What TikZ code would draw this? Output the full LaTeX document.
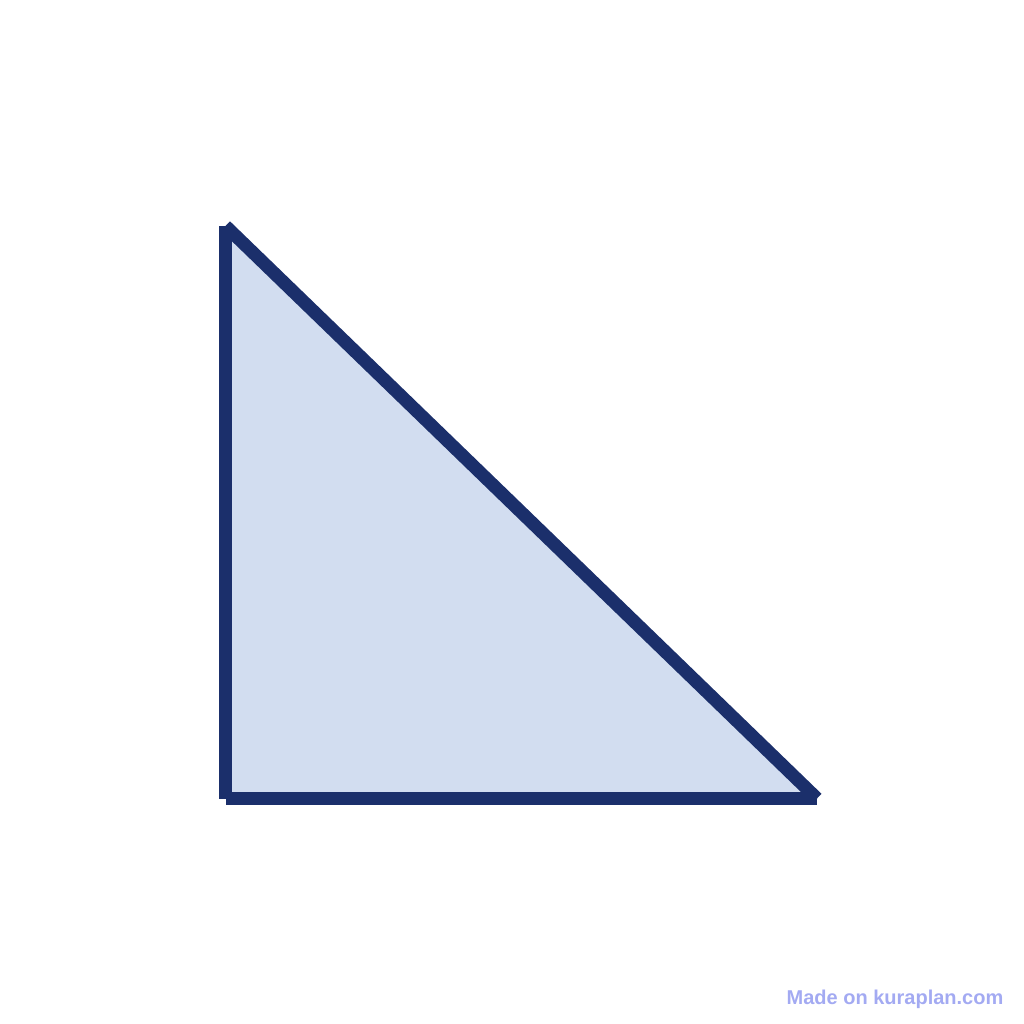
\documentclass[tikz,border=0pt]{standalone}
\usepackage{fontspec}
\setmainfont{Liberation Sans}
\definecolor{navy}{HTML}{1B2F6B}
\definecolor{paleblue}{HTML}{D2DDF0}
\definecolor{markblue}{HTML}{A3AAF2}
\begin{document}
\begin{tikzpicture}[x=1pt,y=-1pt]
                \useasboundingbox (0,0) rectangle (1024,1024);

                \coordinate (A) at (225.5,226);
                \coordinate (B) at (225.5,798.5);
                \coordinate (C) at (817,798.5);

                % 三角形の塗り
                \fill[paleblue] (A)--(B)--(C)--cycle;

                % 辺 (それぞれ別の線分)
                \draw[navy,line width=13pt] (A)--(B);
                \draw[navy,line width=13pt] (B)--(C);
                \draw[navy,line width=13pt] (A)--(C);

                \node[text=markblue,font=\bfseries\fontsize{20}{24}\selectfont] (mark) at (895,999) {Made on kuraplan.com};
            \end{tikzpicture}
\end{document}
